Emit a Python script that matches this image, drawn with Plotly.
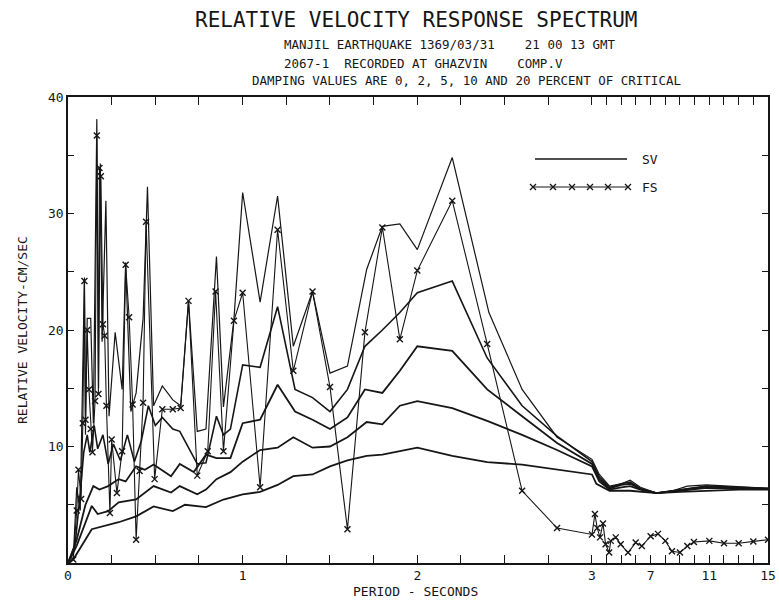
import plotly.graph_objects as go

# ---------------- data (period in seconds, relative velocity in cm/sec) ----------------
fs_period = [0.03, 0.05, 0.06, 0.075, 0.085, 0.094, 0.10, 0.11, 0.12, 0.13, 0.14, 0.155, 0.165, 0.174,
             0.18, 0.188, 0.20, 0.21, 0.22, 0.24, 0.25, 0.28, 0.31, 0.33, 0.35, 0.37, 0.39, 0.41, 0.43,
             0.447, 0.496, 0.54, 0.60, 0.645, 0.69, 0.74, 0.80, 0.845, 0.89, 0.95, 1.0, 1.10, 1.20,
             1.29, 1.40, 1.50, 1.60, 1.70, 1.80, 1.90, 2.0, 2.2, 2.4, 2.6, 2.8, 3.0, 3.2, 3.36, 3.55,
             3.75, 3.93, 4.17, 4.28, 4.62, 4.96, 5.46, 5.98, 6.4, 7.0, 7.5, 8.0, 8.45, 9.0, 9.5, 9.95,
             11.0, 12.0, 13.0, 14.0, 15.0]
fs_vel = [0.3, 4.5, 8.0, 5.5, 12.0, 24.2, 12.3, 20.0, 14.9, 11.5, 9.5, 13.9, 36.7, 14.5,
          33.9, 33.2, 20.5, 19.5, 13.5, 4.3, 10.6, 6.0, 9.6, 25.6, 21.1, 13.6, 2.0, 7.9, 13.75,
          29.3, 7.2, 13.2, 13.2, 13.3, 22.5, 7.5, 9.6, 23.3, 9.6, 20.8, 23.2, 6.5, 28.6,
          16.5, 23.3, 15.1, 2.9, 19.8, 28.8, 19.2, 25.1, 31.1, 18.8, 6.2, 3.0, 2.45, 4.2, 3.0, 2.2,
          3.4, 1.6, 0.9, 1.9, 2.2, 1.6, 0.9, 1.75, 1.45, 2.3, 2.5, 1.9, 1.0, 0.9, 1.45, 1.8,
          1.9, 1.7, 1.7, 1.85, 2.0]

sv0_period = [0, 0.03, 0.05, 0.07, 0.094, 0.10, 0.11, 0.13, 0.145, 0.165, 0.175, 0.185, 0.195, 0.217,
              0.235, 0.27, 0.31, 0.33, 0.36, 0.39, 0.43, 0.455, 0.49, 0.54, 0.60, 0.645, 0.69, 0.74,
              0.79, 0.85, 0.89, 0.95, 1.0, 1.10, 1.20, 1.29, 1.40, 1.50, 1.60, 1.71, 1.80, 1.90, 2.0,
              2.2, 2.41, 2.6, 2.8, 3.0, 3.5, 4.2, 5.0, 5.6, 6.3, 7.4, 8.5, 9.5, 10.8, 12.0, 13.5, 15.0]
sv0_vel = [0, 0.4, 6.5, 4.5, 24.5, 11.0, 21.0, 21.0, 12.0, 38.1, 15.0, 34.3, 19.0, 31.1,
           12.6, 19.8, 14.9, 25.8, 13.0, 14.6, 21.0, 32.3, 13.5, 15.2, 14.0, 13.5, 22.5, 11.3,
           11.5, 26.3, 13.4, 20.9, 31.8, 22.4, 31.5, 18.6, 23.3, 16.3, 16.9, 25.2, 28.9, 29.1, 26.9,
           34.8, 21.5, 14.9, 10.8, 8.9, 7.6, 6.6, 6.8, 7.1, 6.5, 6.0, 6.2, 6.6, 6.7, 6.6, 6.5, 6.4]

sv2_period = [0, 0.04, 0.07, 0.09, 0.11, 0.125, 0.15, 0.17, 0.20, 0.23, 0.26, 0.30, 0.34, 0.38, 0.42,
              0.46, 0.50, 0.54, 0.60, 0.64, 0.74, 0.79, 0.85, 0.89, 0.93, 1.0, 1.1, 1.2, 1.3, 1.4, 1.5,
              1.6, 1.7, 1.8, 1.9, 2.0, 2.2, 2.4, 2.6, 2.8, 3.0, 3.5, 4.2, 5.0, 5.6, 6.3, 7.4, 9.0,
              10.8, 13.0, 15.0]
sv2_vel = [0, 1.5, 6.0, 9.5, 11.0, 9.5, 11.8, 9.8, 11.0, 8.5, 10.2, 8.8, 11.0, 8.7, 10.5,
           13.5, 11.8, 12.5, 11.5, 11.3, 8.5, 8.6, 12.6, 11.0, 11.5, 17.0, 16.8, 22.0, 14.9, 14.2, 13.0,
           14.9, 18.6, 20.0, 21.5, 23.2, 24.2, 17.6, 13.5, 10.9, 8.7, 7.4, 6.5, 6.8, 6.95, 6.4, 6.0, 6.3,
           6.6, 6.5, 6.4]

sv5_period = [0, 0.05, 0.10, 0.145, 0.18, 0.23, 0.29, 0.33, 0.39, 0.44, 0.49, 0.59, 0.64, 0.72, 0.79,
              0.85, 0.93, 1.0, 1.1, 1.2, 1.3, 1.4, 1.5, 1.6, 1.7, 1.8, 1.9, 2.0, 2.2, 2.4, 2.6, 2.8,
              3.0, 3.5, 4.2, 5.0, 5.6, 6.3, 7.4, 9.0, 10.8, 13.0, 15.0]
sv5_vel = [0, 2.0, 5.0, 6.6, 6.3, 6.6, 7.2, 7.0, 8.3, 8.0, 8.45, 7.45, 8.5, 7.8, 9.3,
           9.0, 9.0, 12.0, 12.3, 15.3, 13.0, 12.3, 11.5, 12.5, 14.9, 14.6, 16.5, 18.6, 18.2, 14.9, 12.6, 10.3,
           8.5, 7.2, 6.4, 6.7, 6.8, 6.35, 6.0, 6.25, 6.55, 6.45, 6.4]

sv10_period = [0, 0.05, 0.136, 0.17, 0.23, 0.29, 0.39, 0.49, 0.59, 0.64, 0.74, 0.79, 0.85, 0.93, 1.0,
               1.1, 1.2, 1.29, 1.4, 1.5, 1.6, 1.71, 1.8, 1.9, 2.0, 2.2, 2.4, 2.6, 2.8, 3.0, 3.5, 4.2,
               5.0, 5.6, 6.3, 7.4, 9.0, 10.8, 13.0, 15.0]
sv10_vel = [0, 1.5, 4.9, 4.2, 4.45, 5.2, 5.45, 6.6, 6.05, 6.6, 5.9, 6.3, 7.2, 7.8, 8.7,
            9.7, 9.9, 10.8, 9.9, 10.0, 10.8, 12.1, 11.9, 13.5, 13.9, 13.3, 12.2, 11.0, 9.7, 8.3, 7.0, 6.3,
            6.5, 6.6, 6.3, 6.0, 6.2, 6.45, 6.4, 6.35]

sv20_period = [0, 0.03, 0.136, 0.23, 0.29, 0.39, 0.49, 0.60, 0.67, 0.79, 0.89, 1.0, 1.1, 1.2, 1.29,
               1.4, 1.5, 1.6, 1.71, 1.8, 2.0, 2.2, 2.4, 2.6, 3.0, 3.3, 4.2, 5.6, 7.4, 9.0, 10.8, 13.0, 15.0]
sv20_vel = [0, 0.3, 2.9, 3.3, 3.5, 4.0, 4.85, 4.45, 5.0, 4.8, 5.45, 5.9, 6.1, 6.7, 7.45,
            7.6, 8.3, 8.8, 9.2, 9.3, 9.9, 9.2, 8.65, 8.45, 7.6, 6.8, 6.2, 6.2, 6.0, 6.1, 6.2, 6.3, 6.3]

x_tick_periods = [0, 0.25, 0.5, 0.75, 1, 1.25, 1.5, 1.75, 2, 2.25, 2.5, 2.75, 3,
                  4, 5, 6, 7, 8, 9, 10, 11, 12, 13, 14, 15]
x_tick_labels = {0: "0", 1: "1", 2: "2", 3: "3", 7: "7", 11: "11", 15: "15"}
y_tick_values = [0, 5, 10, 15, 20, 25, 30, 35, 40]
y_tick_labels = {10: "10", 20: "20", 30: "30", 40: "40"}

# ---------------- axis scale: linear 0-3 s, compressed 3-15 s ----------------
K = 14.67 / 174.67


def scale_period(periods):
    return [p if p <= 3 else 3 + (p - 3) * K for p in periods]


INK = "#161616"
FONT = "DejaVu Sans Mono"

fig = go.Figure()
sv_sets = [(sv20_period, sv20_vel, 1.8), (sv10_period, sv10_vel, 1.8), (sv5_period, sv5_vel, 1.8),
           (sv2_period, sv2_vel, 1.6), (sv0_period, sv0_vel, 1.2)]
for per, vel, w in sv_sets:
    fig.add_trace(go.Scatter(x=scale_period(per), y=vel, mode="lines",
                             line=dict(color=INK, width=w), showlegend=False, hoverinfo="skip"))
fig.add_trace(go.Scatter(x=scale_period(fs_period), y=fs_vel, mode="lines+markers",
                         line=dict(color=INK, width=1.1),
                         marker=dict(symbol="x-thin", size=6, line=dict(color=INK, width=1.4)),
                         showlegend=False, hoverinfo="skip"))

# ---------------- layout ----------------
L, R, T, B = 68, 11, 97, 40
W, H = 779, 603
pw, ph = W - L - R, H - T - B


def px_x(px):
    return (px - L) / pw


def px_y(py):
    return (H - B - py) / ph


fig.update_layout(
    width=W, height=H, margin=dict(l=L, r=R, t=T, b=B, autoexpand=False),
    paper_bgcolor="white", plot_bgcolor="white",
    font=dict(family=FONT, color=INK, size=13),
    showlegend=False,
    xaxis=dict(range=[0, scale_period([15])[0]], tickmode="array",
               tickvals=scale_period(x_tick_periods),
               ticktext=[x_tick_labels.get(p, "") for p in x_tick_periods],
               ticks="inside", ticklen=8, tickwidth=1.2, tickcolor=INK,
               showline=True, linecolor=INK, linewidth=1.5, mirror="ticks",
               showgrid=False, zeroline=False, tickfont=dict(size=13, family=FONT),
               automargin=False),
    yaxis=dict(range=[0, 40], tickmode="array", tickvals=y_tick_values,
               ticktext=[y_tick_labels.get(v, "") for v in y_tick_values],
               ticks="inside", ticklen=6, tickwidth=1.2, tickcolor=INK,
               showline=True, linecolor=INK, linewidth=1.5, mirror="ticks",
               showgrid=False, zeroline=False, tickfont=dict(size=13, family=FONT),
               automargin=False),
)

ann = [
    dict(text="RELATIVE VELOCITY RESPONSE SPECTRUM", x=px_x(416), y=px_y(20), xanchor="center",
         yanchor="middle", font=dict(size=21, family=FONT)),
    dict(text="MANJIL EARTHQUAKE 1369/03/31    21 00 13 GMT", x=px_x(282), y=px_y(45), xanchor="left",
         yanchor="middle", font=dict(size=12.5, family=FONT)),
    dict(text="2067-1  RECORDED AT GHAZVIN    COMP.V", x=px_x(282), y=px_y(63), xanchor="left",
         yanchor="middle", font=dict(size=12.5, family=FONT)),
    dict(text="DAMPING VALUES ARE 0, 2, 5, 10 AND 20 PERCENT OF CRITICAL", x=px_x(467), y=px_y(80),
         xanchor="center", yanchor="middle", font=dict(size=12.5, family=FONT)),
    dict(text="SV", x=px_x(640), y=px_y(159), xanchor="left", yanchor="middle", font=dict(size=13, family=FONT)),
    dict(text="FS", x=px_x(640), y=px_y(187), xanchor="left", yanchor="middle", font=dict(size=13, family=FONT)),
    dict(text="PERIOD - SECONDS", x=px_x(415), y=px_y(591), xanchor="center", yanchor="middle",
         font=dict(size=13, family=FONT)),
    dict(text="RELATIVE VELOCITY-CM/SEC", x=px_x(22), y=px_y(330), xanchor="center", yanchor="middle",
         textangle=-90, font=dict(size=13, family=FONT)),
]
for a in ann:
    a.update(xref="paper", yref="paper", showarrow=False)
fig.update_layout(annotations=ann)

# legend samples
shapes = [
    dict(type="line", x0=px_x(535), x1=px_x(627), y0=px_y(159), y1=px_y(159), line=dict(color=INK, width=1.6)),
    dict(type="line", x0=px_x(533), x1=px_x(629), y0=px_y(187), y1=px_y(187), line=dict(color=INK, width=1.2)),
]
for mx in [533, 553, 572, 590, 608, 628]:
    d = 3
    path = (f"M {px_x(mx - d)},{px_y(187 - d)} L {px_x(mx + d)},{px_y(187 + d)} "
            f"M {px_x(mx - d)},{px_y(187 + d)} L {px_x(mx + d)},{px_y(187 - d)}")
    shapes.append(dict(type="path", path=path, line=dict(color=INK, width=1.3)))
for s in shapes:
    s.update(xref="paper", yref="paper")
fig.update_layout(shapes=shapes)

fig.write_html("out.html", config={"displayModeBar": False},
               post_script="document.body.style.margin='0';document.body.style.overflow='hidden';")
